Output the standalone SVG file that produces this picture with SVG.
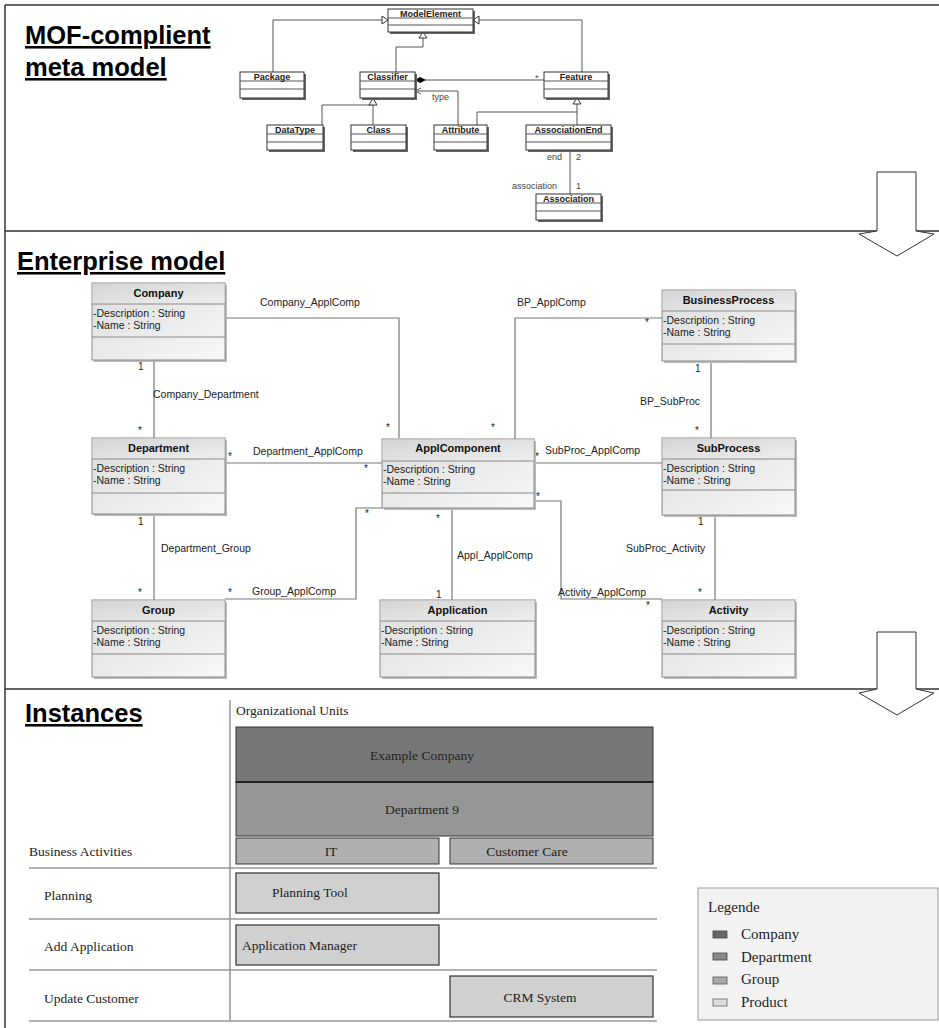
<svg xmlns="http://www.w3.org/2000/svg" width="939" height="1028" viewBox="0 0 939 1028">
<style>
.frame{stroke:#333;stroke-width:1.5;fill:none}
.title{font-family:"Liberation Sans",Arial,sans-serif;font-weight:bold;font-size:25.5px;fill:#000;text-decoration:underline}
.mbox{fill:#fff;stroke:#333;stroke-width:1}
.mshadow{fill:#666}
.mname{font-family:"Liberation Sans",Arial,sans-serif;font-weight:bold;font-size:9px;fill:#222;text-anchor:middle}
.mlbl{font-family:"Liberation Sans",Arial,sans-serif;font-size:9px;fill:#444}
.mline{stroke:#555;stroke-width:1;fill:none}
.box{fill:url(#g1);stroke:#8a8a8a;stroke-width:1}
.hdr{fill:url(#g2)}
.shadow{fill:#bbb}
.sep{stroke:#8a8a8a;stroke-width:1}
.cname{font-family:"Liberation Sans",Arial,sans-serif;font-weight:bold;font-size:11px;fill:#111;text-anchor:middle}
.attr{font-family:"Liberation Sans",Arial,sans-serif;font-size:10.5px;fill:#222}
.lbl{font-family:"Liberation Sans",Arial,sans-serif;font-size:10.5px;fill:#222}
.mult{font-family:"Liberation Sans",Arial,sans-serif;font-size:10px;fill:#222}
.conn{stroke:#777;stroke-width:1.2;fill:none}
.arrow{fill:#fff;stroke:#333;stroke-width:1}
.serif{font-family:"Liberation Serif","Times New Roman",serif;font-size:13.5px;fill:#222}
.row{stroke:#999;stroke-width:1.5}
.leg{font-family:"Liberation Serif","Times New Roman",serif;font-size:15px;fill:#222}
</style>
<defs>
<linearGradient id="g1" x1="0" y1="0" x2="1" y2="1">
<stop offset="0" stop-color="#dcdcdc"/>
<stop offset="1" stop-color="#f8f8f8"/>
</linearGradient>
<linearGradient id="g2" x1="0" y1="0" x2="1" y2="1">
<stop offset="0" stop-color="#d4d4d4"/>
<stop offset="1" stop-color="#efefef"/>
</linearGradient>
</defs>
<rect width="939" height="1028" fill="#fff"/>

<!-- frame and section separators -->
<g id="frame">
<line class="frame" x1="5" y1="5" x2="939" y2="5"/>
<line class="frame" x1="5" y1="5" x2="5" y2="1028"/>
<line class="frame" x1="5" y1="231" x2="877" y2="231"/>
<line class="frame" x1="916" y1="231" x2="939" y2="231"/>
<line class="frame" x1="5" y1="689" x2="877" y2="689"/>
<line class="frame" x1="916" y1="689" x2="939" y2="689"/>
<polygon class="arrow" points="877,172 916,172 916,231 934,234 897,256 859,234 877,231"/>
<polygon class="arrow" points="877,632 916,632 916,689 934,693 897,715 859,693 877,689"/>
</g>

<text class="title" x="25" y="44">MOF-complient</text>
<text class="title" x="25" y="76">meta model</text>
<text class="title" x="17" y="270">Enterprise model</text>
<text class="title" x="25" y="722">Instances</text>

<!-- meta model connectors -->
<g id="meta-connectors">
<polyline class="mline" points="273,72 273,20 382,20"/>
<polygon class="arrow" points="382,16 388,20 382,24"/>
<polyline class="mline" points="582,72 582,20 479,20"/>
<polygon class="arrow" points="479,16 473,20 479,24"/>
<polyline class="mline" points="396,72 396,47 423,47 423,38"/>
<polygon class="arrow" points="419,38 423,32 427,38"/>
<polyline class="mline" points="322,125 322,105 373,105"/>
<line class="mline" x1="373" y1="125" x2="373" y2="105"/>
<polygon class="arrow" points="369,105 373,98 377,105"/>
<polyline class="mline" points="477,125 477,112 577,112"/>
<line class="mline" x1="577" y1="125" x2="577" y2="104"/>
<polygon class="arrow" points="573,104 577,98 581,104"/>
<line class="mline" x1="544" y1="80" x2="425" y2="80"/>
<polygon fill="#000" points="415,80 420,77 426,80 420,83"/>
<polyline class="mline" points="458,125 458,91 415,91"/>
<polyline class="mline" points="421,88 415,91 421,94"/>
<line class="mline" x1="570" y1="150" x2="570" y2="194"/>
<text class="mlbl" x="412" y="78">1</text>
<text class="mlbl" x="535" y="81">*</text>
<text class="mlbl" x="432" y="100">type</text>
<text class="mlbl" x="547" y="160">end</text>
<text class="mlbl" x="576" y="160">2</text>
<text class="mlbl" x="512" y="189">association</text>
<text class="mlbl" x="576" y="189">1</text>
</g>

<!-- meta model classes -->
<g id="ModelElement"><rect class="mshadow" x="390" y="11" width="85" height="23"/><rect class="mbox" x="388" y="9" width="85" height="23"/><line class="mline" x1="388" y1="18" x2="473" y2="18"/><line class="mline" x1="388" y1="25" x2="473" y2="25"/><text class="mname" x="430.5" y="16.5">ModelElement</text></g>
<g id="Package"><rect class="mshadow" x="242" y="74" width="64" height="26"/><rect class="mbox" x="240" y="72" width="64" height="26"/><line class="mline" x1="240" y1="81" x2="304" y2="81"/><line class="mline" x1="240" y1="89" x2="304" y2="89"/><text class="mname" x="272" y="79.5">Package</text></g>
<g id="Classifier"><rect class="mshadow" x="362" y="74" width="55" height="26"/><rect class="mbox" x="360" y="72" width="55" height="26"/><line class="mline" x1="360" y1="81" x2="415" y2="81"/><line class="mline" x1="360" y1="89" x2="415" y2="89"/><text class="mname" x="387.5" y="79.5">Classifier</text></g>
<g id="Feature"><rect class="mshadow" x="546" y="74" width="64" height="26"/><rect class="mbox" x="544" y="72" width="64" height="26"/><line class="mline" x1="544" y1="81" x2="608" y2="81"/><line class="mline" x1="544" y1="89" x2="608" y2="89"/><text class="mname" x="576" y="79.5">Feature</text></g>
<g id="DataType"><rect class="mshadow" x="269" y="127" width="56" height="25"/><rect class="mbox" x="267" y="125" width="56" height="25"/><line class="mline" x1="267" y1="134" x2="323" y2="134"/><line class="mline" x1="267" y1="142" x2="323" y2="142"/><text class="mname" x="295" y="132.5">DataType</text></g>
<g id="Class"><rect class="mshadow" x="353" y="127" width="55" height="25"/><rect class="mbox" x="351" y="125" width="55" height="25"/><line class="mline" x1="351" y1="134" x2="406" y2="134"/><line class="mline" x1="351" y1="142" x2="406" y2="142"/><text class="mname" x="378.5" y="132.5">Class</text></g>
<g id="Attribute"><rect class="mshadow" x="436" y="127" width="53" height="25"/><rect class="mbox" x="434" y="125" width="53" height="25"/><line class="mline" x1="434" y1="134" x2="487" y2="134"/><line class="mline" x1="434" y1="142" x2="487" y2="142"/><text class="mname" x="460.5" y="132.5">Attribute</text></g>
<g id="AssociationEnd"><rect class="mshadow" x="528" y="127" width="85" height="25"/><rect class="mbox" x="526" y="125" width="85" height="25"/><line class="mline" x1="526" y1="134" x2="611" y2="134"/><line class="mline" x1="526" y1="142" x2="611" y2="142"/><text class="mname" x="568.5" y="132.5">AssociationEnd</text></g>
<g id="Association"><rect class="mshadow" x="538" y="196" width="65" height="26"/><rect class="mbox" x="536" y="194" width="65" height="26"/><line class="mline" x1="536" y1="203" x2="601" y2="203"/><line class="mline" x1="536" y1="211" x2="601" y2="211"/><text class="mname" x="568.5" y="201.5">Association</text></g>

<!-- enterprise model connectors -->
<g id="connectors">
<polyline class="conn" points="225,318 399,318 399,438"/>
<line class="conn" x1="154" y1="360" x2="154" y2="438"/>
<line class="conn" x1="225" y1="463" x2="382" y2="463"/>
<line class="conn" x1="154" y1="514" x2="154" y2="600"/>
<polyline class="conn" points="225,599 356,599 356,508 382,508"/>
<polyline class="conn" points="515,439 515,318 662,318"/>
<line class="conn" x1="711" y1="361" x2="711" y2="438"/>
<line class="conn" x1="534" y1="463" x2="662" y2="463"/>
<line class="conn" x1="715" y1="515" x2="715" y2="600"/>
<line class="conn" x1="452" y1="508" x2="452" y2="600"/>
<polyline class="conn" points="534,501 561,501 561,599 662,599"/>

<text class="lbl" x="260" y="306">Company_ApplComp</text>
<text class="mult" x="213" y="319">*</text>
<text class="mult" x="386" y="431">*</text>
<text class="mult" x="138" y="370">1</text>
<text class="lbl" x="153" y="398">Company_Department</text>
<text class="mult" x="138" y="434">*</text>
<text class="lbl" x="253" y="455">Department_ApplComp</text>
<text class="mult" x="228" y="460">*</text>
<text class="mult" x="364" y="472">*</text>
<text class="mult" x="138" y="525">1</text>
<text class="lbl" x="161" y="552">Department_Group</text>
<text class="mult" x="138" y="596">*</text>
<text class="lbl" x="252" y="595">Group_ApplComp</text>
<text class="mult" x="228" y="596">*</text>
<text class="mult" x="365" y="517">*</text>
<text class="lbl" x="517" y="306">BP_ApplComp</text>
<text class="mult" x="491" y="431">*</text>
<text class="mult" x="645" y="326">*</text>
<text class="mult" x="695" y="372">1</text>
<text class="lbl" x="640" y="405">BP_SubProc</text>
<text class="mult" x="695" y="434">*</text>
<text class="lbl" x="545" y="454">SubProc_ApplComp</text>
<text class="mult" x="535" y="460">*</text>
<text class="mult" x="698" y="525">1</text>
<text class="lbl" x="626" y="552">SubProc_Activity</text>
<text class="mult" x="698" y="596">*</text>
<text class="mult" x="436" y="522">*</text>
<text class="lbl" x="457" y="559">Appl_ApplComp</text>
<text class="mult" x="436" y="598">1</text>
<text class="mult" x="536" y="500">*</text>
<text class="lbl" x="558" y="596">Activity_ApplComp</text>
<text class="mult" x="646" y="609">*</text>
</g>

<!-- enterprise model classes -->
<g id="Company"><rect class="shadow" x="94" y="285" width="133" height="77"/><rect class="box" x="92" y="283" width="133" height="77"/><rect class="hdr" x="92.5" y="283.5" width="132" height="20"/><line class="sep" x1="92" y1="304" x2="225" y2="304"/><line class="sep" x1="92" y1="337" x2="225" y2="337"/><text class="cname" x="158.5" y="297">Company</text><text class="attr" x="93" y="317">-Description : String</text><text class="attr" x="93" y="329">-Name : String</text></g>
<g id="Department"><rect class="shadow" x="94" y="440" width="133" height="76"/><rect class="box" x="92" y="438" width="133" height="76"/><rect class="hdr" x="92.5" y="438.5" width="132" height="20.5"/><line class="sep" x1="92" y1="459" x2="225" y2="459"/><line class="sep" x1="92" y1="493" x2="225" y2="493"/><text class="cname" x="158.5" y="452">Department</text><text class="attr" x="93" y="472">-Description : String</text><text class="attr" x="93" y="484">-Name : String</text></g>
<g id="Group"><rect class="shadow" x="94" y="602" width="133" height="77"/><rect class="box" x="92" y="600" width="133" height="77"/><rect class="hdr" x="92.5" y="600.5" width="132" height="20.5"/><line class="sep" x1="92" y1="621" x2="225" y2="621"/><line class="sep" x1="92" y1="654" x2="225" y2="654"/><text class="cname" x="158.5" y="614">Group</text><text class="attr" x="93" y="634">-Description : String</text><text class="attr" x="93" y="646">-Name : String</text></g>
<g id="ApplComponent"><rect class="shadow" x="384" y="441" width="152" height="69"/><rect class="box" x="382" y="439" width="152" height="69"/><rect class="hdr" x="382.5" y="439.5" width="151" height="21.5"/><line class="sep" x1="382" y1="461" x2="534" y2="461"/><line class="sep" x1="382" y1="493" x2="534" y2="493"/><text class="cname" x="458" y="452">ApplComponent</text><text class="attr" x="383" y="473">-Description : String</text><text class="attr" x="383" y="485">-Name : String</text></g>
<g id="Application"><rect class="shadow" x="382" y="602" width="155" height="77"/><rect class="box" x="380" y="600" width="155" height="77"/><rect class="hdr" x="380.5" y="600.5" width="154" height="20.5"/><line class="sep" x1="380" y1="621" x2="535" y2="621"/><line class="sep" x1="380" y1="654" x2="535" y2="654"/><text class="cname" x="457.5" y="614">Application</text><text class="attr" x="381" y="634">-Description : String</text><text class="attr" x="381" y="646">-Name : String</text></g>
<g id="BusinessProcess"><rect class="shadow" x="664" y="292" width="133" height="71"/><rect class="box" x="662" y="290" width="133" height="71"/><rect class="hdr" x="662.5" y="290.5" width="132" height="20.5"/><line class="sep" x1="662" y1="311" x2="795" y2="311"/><line class="sep" x1="662" y1="344" x2="795" y2="344"/><text class="cname" x="728.5" y="304">BusinessProcess</text><text class="attr" x="663" y="324">-Description : String</text><text class="attr" x="663" y="336">-Name : String</text></g>
<g id="SubProcess"><rect class="shadow" x="664" y="440" width="133" height="77"/><rect class="box" x="662" y="438" width="133" height="77"/><rect class="hdr" x="662.5" y="438.5" width="132" height="20.5"/><line class="sep" x1="662" y1="459" x2="795" y2="459"/><line class="sep" x1="662" y1="490" x2="795" y2="490"/><text class="cname" x="728.5" y="452">SubProcess</text><text class="attr" x="663" y="472">-Description : String</text><text class="attr" x="663" y="484">-Name : String</text></g>
<g id="Activity"><rect class="shadow" x="664" y="602" width="133" height="77"/><rect class="box" x="662" y="600" width="133" height="77"/><rect class="hdr" x="662.5" y="600.5" width="132" height="20.5"/><line class="sep" x1="662" y1="621" x2="795" y2="621"/><line class="sep" x1="662" y1="654" x2="795" y2="654"/><text class="cname" x="728.5" y="614">Activity</text><text class="attr" x="663" y="634">-Description : String</text><text class="attr" x="663" y="646">-Name : String</text></g>

<!-- instances -->
<g id="instances-grid">
<line x1="230" y1="700" x2="230" y2="1021" stroke="#777" stroke-width="1.2"/>
<line class="row" x1="29" y1="868" x2="657" y2="868"/>
<line class="row" x1="29" y1="919" x2="657" y2="919"/>
<line class="row" x1="29" y1="970" x2="657" y2="970"/>
<line class="row" x1="29" y1="1021" x2="657" y2="1021"/>
<text class="serif" x="236" y="715">Organizational Units</text>
<text class="serif" x="29" y="856">Business Activities</text>
<text class="serif" x="44" y="900">Planning</text>
<text class="serif" x="44" y="951">Add Application</text>
<text class="serif" x="44" y="1003">Update Customer</text>
</g>
<g id="ExampleCompany"><rect x="236" y="727" width="417" height="55" fill="#777" stroke="#333" stroke-width="1"/><text class="serif" x="422" y="760" text-anchor="middle">Example Company</text></g>
<g id="Department9"><rect x="236" y="782" width="417" height="54" fill="#969696" stroke="#333" stroke-width="1"/><line x1="236" y1="782" x2="653" y2="782" stroke="#222" stroke-width="2"/><text class="serif" x="422" y="814" text-anchor="middle">Department 9</text></g>
<g id="IT"><rect x="236" y="838" width="203" height="26" fill="#b0b0b0" stroke="#333" stroke-width="1"/><text class="serif" x="331" y="856" text-anchor="middle">IT</text></g>
<g id="CustomerCare"><rect x="450" y="838" width="203" height="26" fill="#b0b0b0" stroke="#333" stroke-width="1"/><text class="serif" x="527" y="856" text-anchor="middle">Customer Care</text></g>
<g id="PlanningTool"><rect x="236" y="873" width="203" height="40" fill="#d0d0d0" stroke="#333" stroke-width="1.2"/><text class="serif" x="272" y="897">Planning Tool</text></g>
<g id="ApplicationManager"><rect x="236" y="925" width="203" height="40" fill="#d0d0d0" stroke="#333" stroke-width="1.2"/><text class="serif" x="242" y="950">Application Manager</text></g>
<g id="CRMSystem"><rect x="450" y="976" width="203" height="41" fill="#d0d0d0" stroke="#333" stroke-width="1.2"/><text class="serif" x="540" y="1002" text-anchor="middle">CRM System</text></g>

<g id="legend">
<rect x="698" y="888" width="240" height="132" fill="#f2f2f2" stroke="#999" stroke-width="1"/>
<text class="leg" x="708" y="912">Legende</text>
<rect x="713" y="931" width="14" height="7" fill="#666" stroke="#444" stroke-width="0.8"/>
<text class="leg" x="741" y="939">Company</text>
<rect x="713" y="953" width="14" height="7" fill="#888" stroke="#444" stroke-width="0.8"/>
<text class="leg" x="741" y="962">Department</text>
<rect x="713" y="977" width="14" height="7" fill="#aaa" stroke="#555" stroke-width="0.8"/>
<text class="leg" x="741" y="984">Group</text>
<rect x="713" y="999" width="14" height="7" fill="#ddd" stroke="#666" stroke-width="0.8"/>
<text class="leg" x="741" y="1007">Product</text>
</g>
</svg>
